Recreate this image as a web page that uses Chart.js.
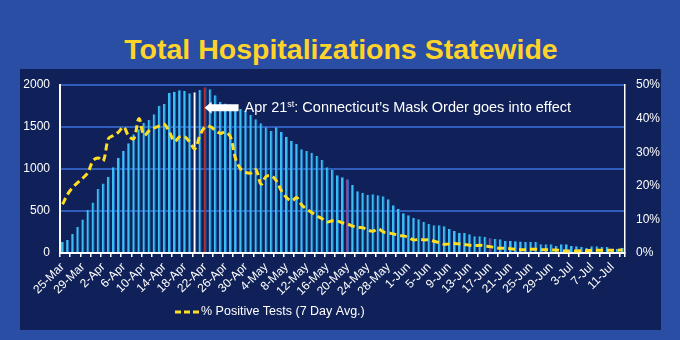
<!DOCTYPE html>
<html>
<head>
<meta charset="utf-8">
<script src="https://cdn.jsdelivr.net/npm/chart.js@4.4.1/dist/chart.umd.min.js"></script>
<style>
body{margin:0;background:#2a4ea3;width:680px;height:340px;overflow:hidden;font-family:"Liberation Sans",Arial,sans-serif;}
#panel{position:absolute;left:20px;top:69px;width:641px;height:261px;background:#0f2158;}
#title{position:absolute;left:0;top:35px;width:682px;margin:0;text-align:center;color:#ffd42a;font-size:28.5px;font-weight:bold;line-height:1;}
#c{position:absolute;left:0;top:0;}
</style>
</head>
<body>
<div id="panel"></div>
<h1 id="title">Total Hospitalizations Statewide</h1>
<canvas id="c" width="680" height="340"></canvas>
<script>
// one bar per day, 25-Mar .. 13-Jul
var days = [
  '25-Mar','26-Mar','27-Mar','28-Mar','29-Mar','30-Mar','31-Mar',
  '1-Apr','2-Apr','3-Apr','4-Apr','5-Apr','6-Apr','7-Apr','8-Apr','9-Apr','10-Apr',
  '11-Apr','12-Apr','13-Apr','14-Apr','15-Apr','16-Apr','17-Apr','18-Apr','19-Apr','20-Apr',
  '21-Apr','22-Apr','23-Apr','24-Apr','25-Apr','26-Apr','27-Apr','28-Apr','29-Apr','30-Apr',
  '1-May','2-May','3-May','4-May','5-May','6-May','7-May','8-May','9-May','10-May',
  '11-May','12-May','13-May','14-May','15-May','16-May','17-May','18-May','19-May','20-May',
  '21-May','22-May','23-May','24-May','25-May','26-May','27-May','28-May','29-May','30-May','31-May',
  '1-Jun','2-Jun','3-Jun','4-Jun','5-Jun','6-Jun','7-Jun','8-Jun','9-Jun','10-Jun',
  '11-Jun','12-Jun','13-Jun','14-Jun','15-Jun','16-Jun','17-Jun','18-Jun','19-Jun','20-Jun',
  '21-Jun','22-Jun','23-Jun','24-Jun','25-Jun','26-Jun','27-Jun','28-Jun','29-Jun','30-Jun',
  '1-Jul','2-Jul','3-Jul','4-Jul','5-Jul','6-Jul','7-Jul','8-Jul','9-Jul','10-Jul',
  '11-Jul','12-Jul','13-Jul'
];

var hospitalized = [
  135,155,226,310,400,512,600,762,826,905,
  1020,1135,1218,1306,1413,1472,1551,1583,1651,1754,
  1778,1905,1921,1937,1929,1901,1913,1940,1972,1948,
  1877,1802,1780,1765,1750,1715,1694,1643,1591,1544,
  1496,1452,1496,1444,1385,1333,1298,1234,1214,1194,
  1155,1107,1020,988,925,901,877,810,734,718,
  694,698,687,675,639,568,524,472,448,421,
  401,369,345,329,329,318,286,262,238,238,
  222,198,198,194,175,167,163,143,143,139,
  136,131,131,131,103,103,103,83,103,103,
  83,79,71,63,79,79,71,71,52,52,
  63
];

// % positive tests, 7 day average
var positive = [
  14.5,17.5,19.5,21,22.3,24,27.5,28.3,27.4,34,
  35,36,37.5,34.8,34,40,35,36.4,37.2,37.8,
  38.3,36,33.2,34.6,34.6,33,31,35,37.5,37.6,
  36.5,35.6,36,34.5,28,25,24,23.8,24.8,20.5,
  22.8,23,21.5,18.5,16.5,15.5,16.5,14.3,13,12,
  11,10.2,9.2,9.6,9.5,9.0,8.6,8.0,7.6,7.5,
  6.8,6.5,7.2,6.3,6.0,5.7,5.2,5.1,4.6,3.9,
  4.1,3.9,3.9,3.5,3.1,2.6,2.7,2.8,2.7,2.5,
  2.3,2.2,2.3,2.1,1.9,1.6,1.4,1.4,1.3,1.1,
  1.0,1.0,1.1,1.1,1.0,1.0,0.9,0.9,0.7,0.6,
  0.6,0.6,0.7,0.7,0.8,0.8,0.8,0.8,0.8,0.8,
  0.9
];

var lineLabel = '% Positive Tests (7 Day Avg.)';
var noteText = ['Apr 21', 'st', ': Connecticut\u2019s Mask Order goes into effect'];
var whiteDay = '20-Apr';
var maskDay = '22-Apr';
var purpleDays = ['20-May', '17-Jun'];

var barColors = [];
for (var i = 0; i < days.length; i++) {
  var col = '#3cc0f4';
  if (days[i] == whiteDay) col = '#ffffff';
  if (days[i] == maskDay) col = '#b3312e';
  if (purpleDays.indexOf(days[i]) >= 0) col = '#8e4a9e';
  barColors.push(col);
}

Chart.defaults.font.family = '"Liberation Sans", Arial, sans-serif';
Chart.defaults.color = '#ffffff';

// arrow + text for the mask order
var maskNote = {
  id: 'maskNote',
  afterDatasetsDraw: function(chart) {
    var c = chart.ctx;
    var tx = chart.scales.x.getPixelForValue(days.indexOf(maskDay)) - 0.5;
    var ty = chart.scales.y.getPixelForValue(1730);
    c.save();
    c.fillStyle = '#ffffff';
    c.beginPath();
    c.moveTo(tx, ty);
    c.lineTo(tx + 7, ty - 6);
    c.lineTo(tx + 7, ty - 3.5);
    c.lineTo(tx + 34, ty - 3.5);
    c.lineTo(tx + 34, ty + 3.5);
    c.lineTo(tx + 7, ty + 3.5);
    c.lineTo(tx + 7, ty + 6);
    c.closePath();
    c.fill();
    var x = tx + 40, base = ty + 4.5;
    c.textBaseline = 'alphabetic';
    c.font = '14.5px "Liberation Sans", Arial, sans-serif';
    c.fillText(noteText[0], x, base);
    x += c.measureText(noteText[0]).width;
    c.font = '9px "Liberation Sans", Arial, sans-serif';
    c.fillText(noteText[1], x, base - 5);
    x += c.measureText(noteText[1]).width;
    c.font = '14.5px "Liberation Sans", Arial, sans-serif';
    c.fillText(noteText[2], x, base);
    c.restore();
  }
};

// legend only for the dashed line, sits left of centre
var lineLegend = {
  id: 'lineLegend',
  afterDraw: function(chart) {
    var c = chart.ctx;
    var ds = chart.data.datasets[0];
    var x = chart.chartArea.left + 115;
    var y = chart.chartArea.bottom + 59;
    c.save();
    c.strokeStyle = ds.borderColor;
    c.lineWidth = 3;
    c.setLineDash([6, 3]);
    c.beginPath();
    c.moveTo(x, y);
    c.lineTo(x + 24, y);
    c.stroke();
    c.setLineDash([]);
    c.fillStyle = '#ffffff';
    c.font = '12.5px "Liberation Sans", Arial, sans-serif';
    c.textBaseline = 'middle';
    c.fillText(ds.label, x + 26, y);
    c.restore();
  }
};

var chart = new Chart(document.getElementById('c'), {
  type: 'bar',
  data: {
    labels: days,
    datasets: [
      {
        type: 'line',
        label: lineLabel,
        data: positive,
        yAxisID: 'y1',
        borderColor: '#ffdd22',
        borderWidth: 3,
        borderDash: [7, 4],
        pointRadius: 0,
        tension: 0.35,
        fill: false,
        order: 0
      },
      {
        type: 'bar',
        label: 'Total Hospitalizations',
        data: hospitalized,
        yAxisID: 'y',
        backgroundColor: barColors,
        borderColor: '#1f74c8',
        borderWidth: { top: 0, right: 1, bottom: 0, left: 0 },
        borderSkipped: false,
        barPercentage: 0.6,
        categoryPercentage: 1,
        order: 1
      }
    ]
  },
  options: {
    responsive: false,
    animation: false,
    devicePixelRatio: 1,
    layout: { padding: { top: 85, left: 20, right: 20, bottom: 37 } },
    plugins: { legend: { display: false }, tooltip: { enabled: false } },
    scales: {
      x: {
        grid: {
          drawOnChartArea: false,
          drawTicks: true,
          tickLength: 4,
          lineWidth: 1.5,
          color: function(ctx) { return ctx.index % 2 ? 'rgba(0,0,0,0)' : '#ffffff'; }
        },
        border: { color: '#ffffff', width: 2 },
        ticks: {
          autoSkip: false,
          minRotation: 45,
          maxRotation: 45,
          padding: 3,
          color: '#ffffff',
          font: { size: 12 },
          callback: function(v, i) { return i % 4 ? '' : days[i]; }
        },
        afterFit: function(s) { s.height = 50; }
      },
      y: {
        position: 'left',
        min: 0,
        max: 2000,
        ticks: {
          stepSize: 500,
          color: '#ffffff',
          font: { size: 12 },
          padding: 10,
          callback: function(v) { return String(v); }
        },
        grid: { color: '#2f5cb8', lineWidth: 2, drawTicks: false },
        border: { color: '#ffffff', width: 2 },
        afterFit: function(s) { s.width = 40; }
      },
      y1: {
        position: 'right',
        min: 0,
        max: 50,
        ticks: {
          stepSize: 10,
          color: '#ffffff',
          font: { size: 12 },
          padding: 11,
          callback: function(v) { return v + '%'; }
        },
        grid: { drawOnChartArea: false, drawTicks: false },
        border: { color: '#ffffff', width: 1.5 },
        afterFit: function(s) { s.width = 35; }
      }
    }
  },
  plugins: [maskNote, lineLegend]
});
</script>
</body>
</html>
